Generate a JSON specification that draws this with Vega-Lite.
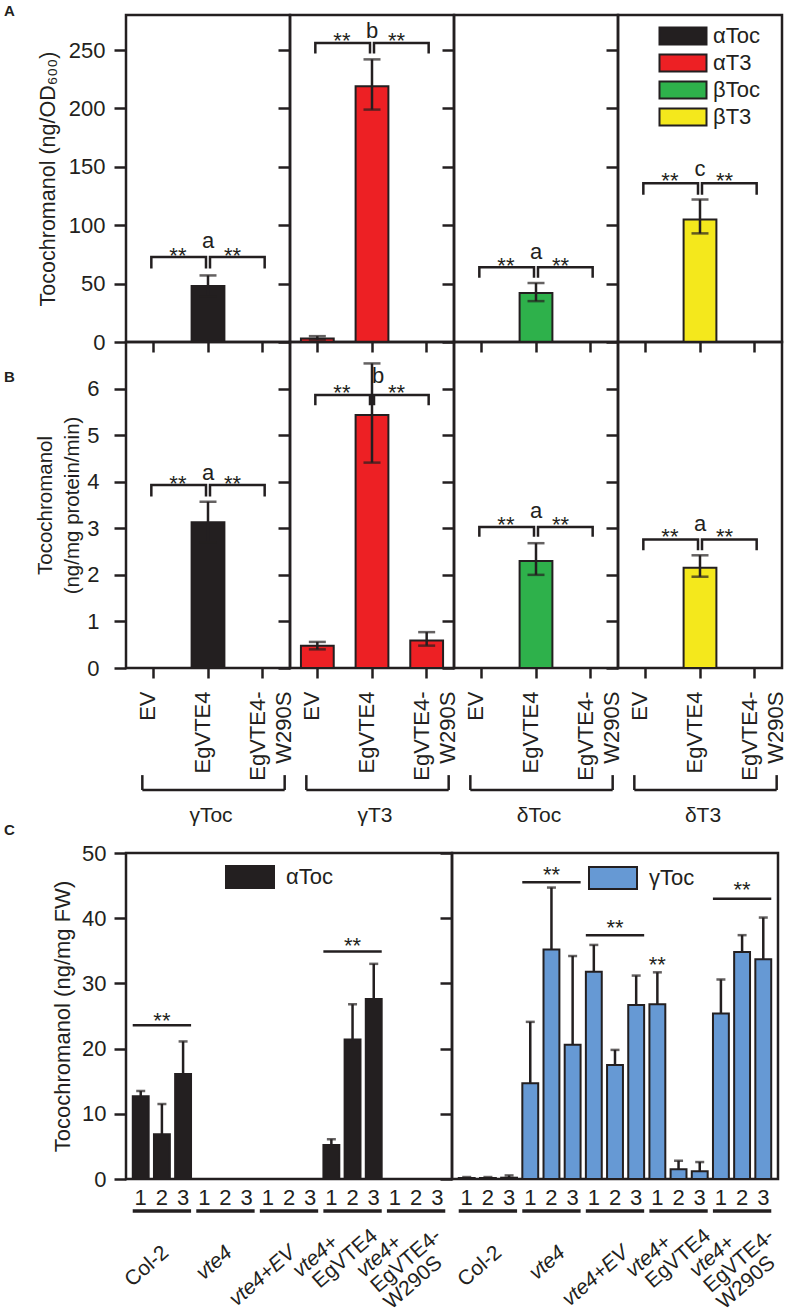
{
"$schema":"https://vega.github.io/schema/vega-lite/v6.json",
"padding":{"left":2,"top":2,"right":3,"bottom":3},
"background":"white",
"datasets":{
"ab":[
{"p":"A1","cat":"EgVTE4","val":48,"lo":39,"hi":57,"comp":"αToc"},
{"p":"A2","cat":"EV","val":3,"lo":2,"hi":5,"comp":"αT3"},
{"p":"A2","cat":"EgVTE4","val":219,"lo":199,"hi":242,"comp":"αT3"},
{"p":"A3","cat":"EgVTE4","val":42,"lo":35,"hi":50.5,"comp":"βToc"},
{"p":"A4","cat":"EgVTE4","val":105,"lo":93,"hi":122,"comp":"βT3"},
{"p":"B1","cat":"EgVTE4","val":3.13,"lo":2.7,"hi":3.57,"comp":"γToc"},
{"p":"B2","cat":"EV","val":0.48,"lo":0.4,"hi":0.56,"comp":"γT3"},
{"p":"B2","cat":"EgVTE4","val":5.43,"lo":4.41,"hi":6.54,"comp":"γT3"},
{"p":"B2","cat":"EgVTE4-W290S","val":0.59,"lo":0.48,"hi":0.77,"comp":"γT3"},
{"p":"B3","cat":"EgVTE4","val":2.3,"lo":2.0,"hi":2.68,"comp":"δToc"},
{"p":"B4","cat":"EgVTE4","val":2.15,"lo":1.96,"hi":2.42,"comp":"δT3"}
],
"brk":[
{"p":"A1","pc":"L","o":0,"cat":"EV","v":63},{"p":"A1","pc":"L","o":1,"cat":"EV","v":72.7},{"p":"A1","pc":"L","o":2,"cat":"EgVTE4","v":72.7},{"p":"A1","pc":"L","o":3,"cat":"EgVTE4","v":63},
{"p":"A1","pc":"R","o":0,"cat":"EgVTE4","v":63},{"p":"A1","pc":"R","o":1,"cat":"EgVTE4","v":72.7},{"p":"A1","pc":"R","o":2,"cat":"EgVTE4-W290S","v":72.7},{"p":"A1","pc":"R","o":3,"cat":"EgVTE4-W290S","v":63},
{"p":"A2","pc":"L","o":0,"cat":"EV","v":247},{"p":"A2","pc":"L","o":1,"cat":"EV","v":256},{"p":"A2","pc":"L","o":2,"cat":"EgVTE4","v":256},{"p":"A2","pc":"L","o":3,"cat":"EgVTE4","v":247},
{"p":"A2","pc":"R","o":0,"cat":"EgVTE4","v":247},{"p":"A2","pc":"R","o":1,"cat":"EgVTE4","v":256},{"p":"A2","pc":"R","o":2,"cat":"EgVTE4-W290S","v":256},{"p":"A2","pc":"R","o":3,"cat":"EgVTE4-W290S","v":247},
{"p":"A3","pc":"L","o":0,"cat":"EV","v":55},{"p":"A3","pc":"L","o":1,"cat":"EV","v":64},{"p":"A3","pc":"L","o":2,"cat":"EgVTE4","v":64},{"p":"A3","pc":"L","o":3,"cat":"EgVTE4","v":55},
{"p":"A3","pc":"R","o":0,"cat":"EgVTE4","v":55},{"p":"A3","pc":"R","o":1,"cat":"EgVTE4","v":64},{"p":"A3","pc":"R","o":2,"cat":"EgVTE4-W290S","v":64},{"p":"A3","pc":"R","o":3,"cat":"EgVTE4-W290S","v":55},
{"p":"A4","pc":"L","o":0,"cat":"EV","v":126},{"p":"A4","pc":"L","o":1,"cat":"EV","v":136},{"p":"A4","pc":"L","o":2,"cat":"EgVTE4","v":136},{"p":"A4","pc":"L","o":3,"cat":"EgVTE4","v":126},
{"p":"A4","pc":"R","o":0,"cat":"EgVTE4","v":126},{"p":"A4","pc":"R","o":1,"cat":"EgVTE4","v":136},{"p":"A4","pc":"R","o":2,"cat":"EgVTE4-W290S","v":136},{"p":"A4","pc":"R","o":3,"cat":"EgVTE4-W290S","v":126},
{"p":"B1","pc":"L","o":0,"cat":"EV","v":3.68},{"p":"B1","pc":"L","o":1,"cat":"EV","v":3.93},{"p":"B1","pc":"L","o":2,"cat":"EgVTE4","v":3.93},{"p":"B1","pc":"L","o":3,"cat":"EgVTE4","v":3.68},
{"p":"B1","pc":"R","o":0,"cat":"EgVTE4","v":3.68},{"p":"B1","pc":"R","o":1,"cat":"EgVTE4","v":3.93},{"p":"B1","pc":"R","o":2,"cat":"EgVTE4-W290S","v":3.93},{"p":"B1","pc":"R","o":3,"cat":"EgVTE4-W290S","v":3.68},
{"p":"B2","pc":"L","o":0,"cat":"EV","v":5.64},{"p":"B2","pc":"L","o":1,"cat":"EV","v":5.86},{"p":"B2","pc":"L","o":2,"cat":"EgVTE4","v":5.86},{"p":"B2","pc":"L","o":3,"cat":"EgVTE4","v":5.64},
{"p":"B2","pc":"R","o":0,"cat":"EgVTE4","v":5.64},{"p":"B2","pc":"R","o":1,"cat":"EgVTE4","v":5.86},{"p":"B2","pc":"R","o":2,"cat":"EgVTE4-W290S","v":5.86},{"p":"B2","pc":"R","o":3,"cat":"EgVTE4-W290S","v":5.64},
{"p":"B3","pc":"L","o":0,"cat":"EV","v":2.82},{"p":"B3","pc":"L","o":1,"cat":"EV","v":3.03},{"p":"B3","pc":"L","o":2,"cat":"EgVTE4","v":3.03},{"p":"B3","pc":"L","o":3,"cat":"EgVTE4","v":2.82},
{"p":"B3","pc":"R","o":0,"cat":"EgVTE4","v":2.82},{"p":"B3","pc":"R","o":1,"cat":"EgVTE4","v":3.03},{"p":"B3","pc":"R","o":2,"cat":"EgVTE4-W290S","v":3.03},{"p":"B3","pc":"R","o":3,"cat":"EgVTE4-W290S","v":2.82},
{"p":"B4","pc":"L","o":0,"cat":"EV","v":2.53},{"p":"B4","pc":"L","o":1,"cat":"EV","v":2.76},{"p":"B4","pc":"L","o":2,"cat":"EgVTE4","v":2.76},{"p":"B4","pc":"L","o":3,"cat":"EgVTE4","v":2.53},
{"p":"B4","pc":"R","o":0,"cat":"EgVTE4","v":2.53},{"p":"B4","pc":"R","o":1,"cat":"EgVTE4","v":2.76},{"p":"B4","pc":"R","o":2,"cat":"EgVTE4-W290S","v":2.76},{"p":"B4","pc":"R","o":3,"cat":"EgVTE4-W290S","v":2.53}
],
"st":[
{"p":"A1","k":"s","cat":"EV","v":68,"t":"**"},{"p":"A1","k":"s","cat":"EgVTE4","v":68,"t":"**"},{"p":"A1","k":"l","cat":"EgVTE4","v":80.5,"t":"a"},
{"p":"A2","k":"s","cat":"EV","v":252,"t":"**"},{"p":"A2","k":"s","cat":"EgVTE4","v":252,"t":"**"},{"p":"A2","k":"l","cat":"EgVTE4","v":260,"t":"b"},
{"p":"A3","k":"s","cat":"EV","v":59.5,"t":"**"},{"p":"A3","k":"s","cat":"EgVTE4","v":59.5,"t":"**"},{"p":"A3","k":"l","cat":"EgVTE4","v":71,"t":"a"},
{"p":"A4","k":"s","cat":"EV","v":132,"t":"**"},{"p":"A4","k":"s","cat":"EgVTE4","v":132,"t":"**"},{"p":"A4","k":"l","cat":"EgVTE4","v":142,"t":"c"},
{"p":"B1","k":"s","cat":"EV","v":3.81,"t":"**"},{"p":"B1","k":"s","cat":"EgVTE4","v":3.81,"t":"**"},{"p":"B1","k":"l","cat":"EgVTE4","v":4.03,"t":"a"},
{"p":"B2","k":"s","cat":"EV","v":5.76,"t":"**"},{"p":"B2","k":"s","cat":"EgVTE4","v":5.76,"t":"**"},{"p":"B2","k":"l","cat":"EgVTE4","v":6.12,"t":"b"},
{"p":"B3","k":"s","cat":"EV","v":2.93,"t":"**"},{"p":"B3","k":"s","cat":"EgVTE4","v":2.93,"t":"**"},{"p":"B3","k":"l","cat":"EgVTE4","v":3.22,"t":"a"},
{"p":"B4","k":"s","cat":"EV","v":2.67,"t":"**"},{"p":"B4","k":"s","cat":"EgVTE4","v":2.67,"t":"**"},{"p":"B4","k":"l","cat":"EgVTE4","v":2.95,"t":"a"}
],
"grp":[
{"p":"B1","lab":"γToc","top":-2.3,"bot":-2.62,"ly":-3.3},
{"p":"B2","lab":"γT3","top":-2.3,"bot":-2.62,"ly":-3.3},
{"p":"B3","lab":"δToc","top":-2.3,"bot":-2.62,"ly":-3.3},
{"p":"B4","lab":"δT3","top":-2.3,"bot":-2.62,"ly":-3.3}
],
"c":[
{"s":"L","key":"Col-2|1","val":12.7,"hi":13.5,"comp":"αToc"},
{"s":"L","key":"Col-2|2","val":6.85,"hi":11.5,"comp":"αToc"},
{"s":"L","key":"Col-2|3","val":16.1,"hi":21.1,"comp":"αToc"},
{"s":"L","key":"vte4+EgVTE4|1","val":5.2,"hi":6.1,"comp":"αToc"},
{"s":"L","key":"vte4+EgVTE4|2","val":21.4,"hi":26.8,"comp":"αToc"},
{"s":"L","key":"vte4+EgVTE4|3","val":27.6,"hi":33.0,"comp":"αToc"},
{"s":"R","key":"Col-2|1","val":0.15,"hi":0.3,"comp":"γToc"},
{"s":"R","key":"Col-2|2","val":0.15,"hi":0.3,"comp":"γToc"},
{"s":"R","key":"Col-2|3","val":0.2,"hi":0.55,"comp":"γToc"},
{"s":"R","key":"vte4|1","val":14.7,"hi":24.1,"comp":"γToc"},
{"s":"R","key":"vte4|2","val":35.2,"hi":44.7,"comp":"γToc"},
{"s":"R","key":"vte4|3","val":20.6,"hi":34.2,"comp":"γToc"},
{"s":"R","key":"vte4+EV|1","val":31.8,"hi":35.9,"comp":"γToc"},
{"s":"R","key":"vte4+EV|2","val":17.5,"hi":19.8,"comp":"γToc"},
{"s":"R","key":"vte4+EV|3","val":26.7,"hi":31.2,"comp":"γToc"},
{"s":"R","key":"vte4+EgVTE4|1","val":26.8,"hi":31.7,"comp":"γToc"},
{"s":"R","key":"vte4+EgVTE4|2","val":1.5,"hi":2.8,"comp":"γToc"},
{"s":"R","key":"vte4+EgVTE4|3","val":1.2,"hi":2.6,"comp":"γToc"},
{"s":"R","key":"vte4+EgVTE4-W290S|1","val":25.4,"hi":30.6,"comp":"γToc"},
{"s":"R","key":"vte4+EgVTE4-W290S|2","val":34.8,"hi":37.4,"comp":"γToc"},
{"s":"R","key":"vte4+EgVTE4-W290S|3","val":33.7,"hi":40.1,"comp":"γToc"}
],
"csig":[
{"s":"L","from":"Col-2|1","to":"Col-2|3","at":"Col-2|2","v":23.6,"sv":23.2},
{"s":"L","from":"vte4+EgVTE4|1","to":"vte4+EgVTE4|3","at":"vte4+EgVTE4|2","v":34.9,"sv":34.6},
{"s":"R","from":"vte4|1","to":"vte4|3","at":"vte4|2","v":45.5,"sv":45.5},
{"s":"R","from":"vte4+EV|1","to":"vte4+EV|3","at":"vte4+EV|2","v":37.4,"sv":37.5},
{"s":"R","at":"vte4+EgVTE4|1","v":null,"sv":31.8},
{"s":"R","from":"vte4+EgVTE4-W290S|1","to":"vte4+EgVTE4-W290S|3","at":"vte4+EgVTE4-W290S|2","v":43.0,"sv":43.2}
],
"cgrp":[
{"s":"L","first":"Col-2|1","last":"Col-2|3","u":-4.9},
{"s":"L","first":"vte4|1","last":"vte4|3","u":-4.9},
{"s":"L","first":"vte4+EV|1","last":"vte4+EV|3","u":-4.9},
{"s":"L","first":"vte4+EgVTE4|1","last":"vte4+EgVTE4|3","u":-4.9},
{"s":"L","first":"vte4+EgVTE4-W290S|1","last":"vte4+EgVTE4-W290S|3","u":-4.9},
{"s":"R","first":"Col-2|1","last":"Col-2|3","u":-4.9},
{"s":"R","first":"vte4|1","last":"vte4|3","u":-4.9},
{"s":"R","first":"vte4+EV|1","last":"vte4+EV|3","u":-4.9},
{"s":"R","first":"vte4+EgVTE4|1","last":"vte4+EgVTE4|3","u":-4.9},
{"s":"R","first":"vte4+EgVTE4-W290S|1","last":"vte4+EgVTE4-W290S|3","u":-4.9}
],
"clab":[
{"s":"L","at":"Col-2|2","ln":0,"it":false,"t":"Col-2","y":-10.9},
{"s":"L","at":"vte4|2","ln":0,"it":true,"t":"vte4","y":-10.9},
{"s":"L","at":"vte4+EV|2","ln":0,"it":true,"t":"vte4+EV","y":-10.9},
{"s":"L","at":"vte4+EgVTE4|1","ln":0,"it":true,"t":"vte4+","y":-9.3},
{"s":"L","at":"vte4+EgVTE4|1","ln":1,"it":false,"t":"EgVTE4","y":-9.3},
{"s":"L","at":"vte4+EgVTE4-W290S|1","ln":0,"it":true,"t":"vte4+","y":-9.3},
{"s":"L","at":"vte4+EgVTE4-W290S|1","ln":1,"it":false,"t":"EgVTE4-","y":-9.3},
{"s":"L","at":"vte4+EgVTE4-W290S|1","ln":2,"it":false,"t":"W290S","y":-9.3},
{"s":"R","at":"Col-2|2","ln":0,"it":false,"t":"Col-2","y":-10.9},
{"s":"R","at":"vte4|2","ln":0,"it":true,"t":"vte4","y":-10.9},
{"s":"R","at":"vte4+EV|2","ln":0,"it":true,"t":"vte4+EV","y":-10.9},
{"s":"R","at":"vte4+EgVTE4|1","ln":0,"it":true,"t":"vte4+","y":-9.3},
{"s":"R","at":"vte4+EgVTE4|1","ln":1,"it":false,"t":"EgVTE4","y":-9.3},
{"s":"R","at":"vte4+EgVTE4-W290S|1","ln":0,"it":true,"t":"vte4+","y":-9.3},
{"s":"R","at":"vte4+EgVTE4-W290S|1","ln":1,"it":false,"t":"EgVTE4-","y":-9.3},
{"s":"R","at":"vte4+EgVTE4-W290S|1","ln":2,"it":false,"t":"W290S","y":-9.3}
]
},
"vconcat":[
{"concat":[
{"width":164,"height":327,
"title":{"text":"A","anchor":"start","frame":"group","orient":"top","offset":-16,"dx":-122,"fontSize":15,"fontWeight":"bold","baseline":"alphabetic","color":"#231f20","font":"Liberation Sans"},
"layer":[
{"data":{"name":"ab"},"transform":[{"filter":"datum.p=='A1'"}],"mark":"bar","encoding":{
"x":{"field":"cat","type":"nominal","scale":{"domain":["EV","EgVTE4","EgVTE4-W290S"],"paddingInner":0.4,"paddingOuter":0.2},"axis":{"labels":false,"tickSize":10,"title":null}},
"y":{"field":"val","type":"quantitative","scale":{"domain":[0,280],"nice":false},"axis":{"values":[0,50,100,150,200,250],"title":"Tocochromanol (ng/OD₆₀₀)","labelPadding":9,"titlePadding":9,"titleFontSize":21.5}},
"color":{"field":"comp","type":"nominal","scale":{"domain":["αToc"],"range":["#231f20"]},"legend":null}}},
{"data":{"name":"ab"},"transform":[{"filter":"datum.p=='A1'"}],"mark":"rule","encoding":{"x":{"field":"cat","type":"nominal"},"y":{"field":"lo","type":"quantitative"},"y2":{"field":"hi"}}},
{"data":{"name":"ab"},"transform":[{"filter":"datum.p=='A1'"},{"fold":["lo","hi"],"as":["w","e"]}],"mark":{"type":"tick","size":17},"encoding":{"x":{"field":"cat","type":"nominal"},"y":{"field":"e","type":"quantitative"}}},
{"data":{"name":"brk"},"transform":[{"filter":"datum.p=='A1' && datum.pc=='L'"}],"mark":{"type":"line","xOffset":-2},"encoding":{"x":{"field":"cat","type":"nominal"},"y":{"field":"v","type":"quantitative"},"order":{"field":"o"}}},
{"data":{"name":"brk"},"transform":[{"filter":"datum.p=='A1' && datum.pc=='R'"}],"mark":{"type":"line","xOffset":2},"encoding":{"x":{"field":"cat","type":"nominal"},"y":{"field":"v","type":"quantitative"},"order":{"field":"o"}}},
{"data":{"name":"st"},"transform":[{"filter":"datum.p=='A1' && datum.k=='s'"}],"mark":{"type":"text","baseline":"alphabetic"},"encoding":{"x":{"field":"cat","type":"nominal","bandPosition":1.25},"y":{"field":"v","type":"quantitative"},"text":{"field":"t"}}},
{"data":{"name":"st"},"transform":[{"filter":"datum.p=='A1' && datum.k=='l'"}],"mark":{"type":"text","baseline":"alphabetic"},"encoding":{"x":{"field":"cat","type":"nominal"},"y":{"field":"v","type":"quantitative"},"text":{"field":"t"}}}
]},
{"width":164,"height":327,
"layer":[
{"data":{"name":"ab"},"transform":[{"filter":"datum.p=='A2'"}],"mark":"bar","encoding":{
"x":{"field":"cat","type":"nominal","scale":{"domain":["EV","EgVTE4","EgVTE4-W290S"],"paddingInner":0.4,"paddingOuter":0.2},"axis":{"labels":false,"tickSize":10,"title":null}},
"y":{"field":"val","type":"quantitative","scale":{"domain":[0,280],"nice":false},"axis":{"values":[0,50,100,150,200,250],"labels":false,"title":null}},
"color":{"field":"comp","type":"nominal","scale":{"domain":["αT3"],"range":["#ed2024"]},"legend":null}}},
{"data":{"name":"ab"},"transform":[{"filter":"datum.p=='A2'"}],"mark":"rule","encoding":{"x":{"field":"cat","type":"nominal"},"y":{"field":"lo","type":"quantitative"},"y2":{"field":"hi"}}},
{"data":{"name":"ab"},"transform":[{"filter":"datum.p=='A2'"},{"fold":["lo","hi"],"as":["w","e"]}],"mark":{"type":"tick","size":17},"encoding":{"x":{"field":"cat","type":"nominal"},"y":{"field":"e","type":"quantitative"}}},
{"data":{"name":"brk"},"transform":[{"filter":"datum.p=='A2' && datum.pc=='L'"}],"mark":{"type":"line","xOffset":-2},"encoding":{"x":{"field":"cat","type":"nominal"},"y":{"field":"v","type":"quantitative"},"order":{"field":"o"}}},
{"data":{"name":"brk"},"transform":[{"filter":"datum.p=='A2' && datum.pc=='R'"}],"mark":{"type":"line","xOffset":2},"encoding":{"x":{"field":"cat","type":"nominal"},"y":{"field":"v","type":"quantitative"},"order":{"field":"o"}}},
{"data":{"name":"st"},"transform":[{"filter":"datum.p=='A2' && datum.k=='s'"}],"mark":{"type":"text","baseline":"alphabetic"},"encoding":{"x":{"field":"cat","type":"nominal","bandPosition":1.25},"y":{"field":"v","type":"quantitative"},"text":{"field":"t"}}},
{"data":{"name":"st"},"transform":[{"filter":"datum.p=='A2' && datum.k=='l'"}],"mark":{"type":"text","baseline":"alphabetic"},"encoding":{"x":{"field":"cat","type":"nominal"},"y":{"field":"v","type":"quantitative"},"text":{"field":"t"}}}
]},
{"width":164,"height":327,
"layer":[
{"data":{"name":"ab"},"transform":[{"filter":"datum.p=='A3'"}],"mark":"bar","encoding":{
"x":{"field":"cat","type":"nominal","scale":{"domain":["EV","EgVTE4","EgVTE4-W290S"],"paddingInner":0.4,"paddingOuter":0.2},"axis":{"labels":false,"tickSize":10,"title":null}},
"y":{"field":"val","type":"quantitative","scale":{"domain":[0,280],"nice":false},"axis":{"values":[0,50,100,150,200,250],"labels":false,"title":null}},
"color":{"field":"comp","type":"nominal","scale":{"domain":["βToc"],"range":["#2eb14b"]},"legend":null}}},
{"data":{"name":"ab"},"transform":[{"filter":"datum.p=='A3'"}],"mark":"rule","encoding":{"x":{"field":"cat","type":"nominal"},"y":{"field":"lo","type":"quantitative"},"y2":{"field":"hi"}}},
{"data":{"name":"ab"},"transform":[{"filter":"datum.p=='A3'"},{"fold":["lo","hi"],"as":["w","e"]}],"mark":{"type":"tick","size":17},"encoding":{"x":{"field":"cat","type":"nominal"},"y":{"field":"e","type":"quantitative"}}},
{"data":{"name":"brk"},"transform":[{"filter":"datum.p=='A3' && datum.pc=='L'"}],"mark":{"type":"line","xOffset":-2},"encoding":{"x":{"field":"cat","type":"nominal"},"y":{"field":"v","type":"quantitative"},"order":{"field":"o"}}},
{"data":{"name":"brk"},"transform":[{"filter":"datum.p=='A3' && datum.pc=='R'"}],"mark":{"type":"line","xOffset":2},"encoding":{"x":{"field":"cat","type":"nominal"},"y":{"field":"v","type":"quantitative"},"order":{"field":"o"}}},
{"data":{"name":"st"},"transform":[{"filter":"datum.p=='A3' && datum.k=='s'"}],"mark":{"type":"text","baseline":"alphabetic"},"encoding":{"x":{"field":"cat","type":"nominal","bandPosition":1.25},"y":{"field":"v","type":"quantitative"},"text":{"field":"t"}}},
{"data":{"name":"st"},"transform":[{"filter":"datum.p=='A3' && datum.k=='l'"}],"mark":{"type":"text","baseline":"alphabetic"},"encoding":{"x":{"field":"cat","type":"nominal"},"y":{"field":"v","type":"quantitative"},"text":{"field":"t"}}}
]},
{"width":164,"height":327,
"layer":[
{"data":{"name":"ab"},"transform":[{"filter":"datum.p=='A4'"}],"mark":"bar","encoding":{
"x":{"field":"cat","type":"nominal","scale":{"domain":["EV","EgVTE4","EgVTE4-W290S"],"paddingInner":0.4,"paddingOuter":0.2},"axis":{"labels":false,"tickSize":10,"title":null}},
"y":{"field":"val","type":"quantitative","scale":{"domain":[0,280],"nice":false},"axis":{"values":[0,50,100,150,200,250],"labels":false,"title":null}},
"color":{"field":"comp","type":"nominal","scale":{"domain":["αToc","αT3","βToc","βT3"],"range":["#231f20","#ed2024","#2eb14b","#f4e81c"]},
"legend":{"orient":"none","legendX":54,"legendY":10,"title":null,"padding":0,"symbolType":"M-2.765,-1L2.765,-1L2.765,1L-2.765,1Z","symbolSize":289,"symbolStrokeColor":"#231f20","symbolStrokeWidth":2,"labelFontSize":22,"labelOffset":19,"rowPadding":1}}}},
{"data":{"name":"ab"},"transform":[{"filter":"datum.p=='A4'"}],"mark":"rule","encoding":{"x":{"field":"cat","type":"nominal"},"y":{"field":"lo","type":"quantitative"},"y2":{"field":"hi"}}},
{"data":{"name":"ab"},"transform":[{"filter":"datum.p=='A4'"},{"fold":["lo","hi"],"as":["w","e"]}],"mark":{"type":"tick","size":17},"encoding":{"x":{"field":"cat","type":"nominal"},"y":{"field":"e","type":"quantitative"}}},
{"data":{"name":"brk"},"transform":[{"filter":"datum.p=='A4' && datum.pc=='L'"}],"mark":{"type":"line","xOffset":-2},"encoding":{"x":{"field":"cat","type":"nominal"},"y":{"field":"v","type":"quantitative"},"order":{"field":"o"}}},
{"data":{"name":"brk"},"transform":[{"filter":"datum.p=='A4' && datum.pc=='R'"}],"mark":{"type":"line","xOffset":2},"encoding":{"x":{"field":"cat","type":"nominal"},"y":{"field":"v","type":"quantitative"},"order":{"field":"o"}}},
{"data":{"name":"st"},"transform":[{"filter":"datum.p=='A4' && datum.k=='s'"}],"mark":{"type":"text","baseline":"alphabetic"},"encoding":{"x":{"field":"cat","type":"nominal","bandPosition":1.25},"y":{"field":"v","type":"quantitative"},"text":{"field":"t"}}},
{"data":{"name":"st"},"transform":[{"filter":"datum.p=='A4' && datum.k=='l'"}],"mark":{"type":"text","baseline":"alphabetic"},"encoding":{"x":{"field":"cat","type":"nominal"},"y":{"field":"v","type":"quantitative"},"text":{"field":"t"}}}
]},
{"width":164,"height":326,
"title":{"text":"B","anchor":"start","frame":"group","orient":"top","offset":-55,"dx":-122,"fontSize":15,"fontWeight":"bold","baseline":"alphabetic","color":"#231f20","font":"Liberation Sans"},
"layer":[
{"data":{"name":"ab"},"transform":[{"filter":"datum.p=='B1'"}],"mark":"bar","encoding":{
"x":{"field":"cat","type":"nominal","scale":{"domain":["EV","EgVTE4","EgVTE4-W290S"],"paddingInner":0.4,"paddingOuter":0.2},"axis":{"labelAngle":-90,"labelPadding":13,"labelOffset":-5,"tickSize":10,"title":null,"labelLineHeight":26,"labelExpr":"datum.label == 'EgVTE4-W290S' ? ['EgVTE4-', 'W290S'] : datum.label"}},
"y":{"field":"val","type":"quantitative","scale":{"domain":[0,7],"nice":false},"axis":{"values":[0,1,2,3,4,5,6],"title":["Tocochromanol","(ng/mg protein/min)"],"titleLineHeight":27,"labelPadding":15,"titlePadding":4,"titleFontSize":20.5}},
"color":{"field":"comp","type":"nominal","scale":{"domain":["γToc"],"range":["#231f20"]},"legend":null}}},
{"data":{"name":"ab"},"transform":[{"filter":"datum.p=='B1'"}],"mark":"rule","encoding":{"x":{"field":"cat","type":"nominal"},"y":{"field":"lo","type":"quantitative"},"y2":{"field":"hi"}}},
{"data":{"name":"ab"},"transform":[{"filter":"datum.p=='B1'"},{"fold":["lo","hi"],"as":["w","e"]}],"mark":{"type":"tick","size":17},"encoding":{"x":{"field":"cat","type":"nominal"},"y":{"field":"e","type":"quantitative"}}},
{"data":{"name":"brk"},"transform":[{"filter":"datum.p=='B1' && datum.pc=='L'"}],"mark":{"type":"line","xOffset":-2},"encoding":{"x":{"field":"cat","type":"nominal"},"y":{"field":"v","type":"quantitative"},"order":{"field":"o"}}},
{"data":{"name":"brk"},"transform":[{"filter":"datum.p=='B1' && datum.pc=='R'"}],"mark":{"type":"line","xOffset":2},"encoding":{"x":{"field":"cat","type":"nominal"},"y":{"field":"v","type":"quantitative"},"order":{"field":"o"}}},
{"data":{"name":"st"},"transform":[{"filter":"datum.p=='B1' && datum.k=='s'"}],"mark":{"type":"text","baseline":"alphabetic"},"encoding":{"x":{"field":"cat","type":"nominal","bandPosition":1.25},"y":{"field":"v","type":"quantitative"},"text":{"field":"t"}}},
{"data":{"name":"st"},"transform":[{"filter":"datum.p=='B1' && datum.k=='l'"}],"mark":{"type":"text","baseline":"alphabetic"},"encoding":{"x":{"field":"cat","type":"nominal"},"y":{"field":"v","type":"quantitative"},"text":{"field":"t"}}},
{"data":{"name":"grp"},"transform":[{"filter":"datum.p=='B1'"}],"mark":{"type":"rule","xOffset":-11,"x2Offset":22},"encoding":{"x":{"datum":"EV","type":"nominal"},"x2":{"datum":"EgVTE4-W290S"},"y":{"field":"bot","type":"quantitative"}}},
{"data":{"name":"grp"},"transform":[{"filter":"datum.p=='B1'"}],"mark":{"type":"rule","xOffset":-11},"encoding":{"x":{"datum":"EV","type":"nominal"},"y":{"field":"top","type":"quantitative"},"y2":{"field":"bot"}}},
{"data":{"name":"grp"},"transform":[{"filter":"datum.p=='B1'"}],"mark":{"type":"rule","xOffset":22},"encoding":{"x":{"datum":"EgVTE4-W290S","type":"nominal"},"y":{"field":"top","type":"quantitative"},"y2":{"field":"bot"}}},
{"data":{"name":"grp"},"transform":[{"filter":"datum.p=='B1'"}],"mark":{"type":"text","dx":3,"fontSize":21,"baseline":"alphabetic"},"encoding":{"x":{"datum":"EgVTE4","type":"nominal"},"y":{"field":"ly","type":"quantitative"},"text":{"field":"lab"}}}
]},
{"width":164,"height":326,
"title":{"text":"C","anchor":"start","frame":"group","orient":"top","offset":-508,"dx":-286,"fontSize":15,"fontWeight":"bold","baseline":"alphabetic","color":"#231f20","font":"Liberation Sans"},
"layer":[
{"data":{"name":"ab"},"transform":[{"filter":"datum.p=='B2'"}],"mark":"bar","encoding":{
"x":{"field":"cat","type":"nominal","scale":{"domain":["EV","EgVTE4","EgVTE4-W290S"],"paddingInner":0.4,"paddingOuter":0.2},"axis":{"labelAngle":-90,"labelPadding":13,"labelOffset":-5,"tickSize":10,"title":null,"labelLineHeight":26,"labelExpr":"datum.label == 'EgVTE4-W290S' ? ['EgVTE4-', 'W290S'] : datum.label"}},
"y":{"field":"val","type":"quantitative","scale":{"domain":[0,7],"nice":false},"axis":{"values":[0,1,2,3,4,5,6],"labels":false,"title":null}},
"color":{"field":"comp","type":"nominal","scale":{"domain":["γT3"],"range":["#ed2024"]},"legend":null}}},
{"data":{"name":"ab"},"transform":[{"filter":"datum.p=='B2'"}],"mark":"rule","encoding":{"x":{"field":"cat","type":"nominal"},"y":{"field":"lo","type":"quantitative"},"y2":{"field":"hi"}}},
{"data":{"name":"ab"},"transform":[{"filter":"datum.p=='B2'"},{"fold":["lo","hi"],"as":["w","e"]}],"mark":{"type":"tick","size":17},"encoding":{"x":{"field":"cat","type":"nominal"},"y":{"field":"e","type":"quantitative"}}},
{"data":{"name":"brk"},"transform":[{"filter":"datum.p=='B2' && datum.pc=='L'"}],"mark":{"type":"line","xOffset":-2},"encoding":{"x":{"field":"cat","type":"nominal"},"y":{"field":"v","type":"quantitative"},"order":{"field":"o"}}},
{"data":{"name":"brk"},"transform":[{"filter":"datum.p=='B2' && datum.pc=='R'"}],"mark":{"type":"line","xOffset":2},"encoding":{"x":{"field":"cat","type":"nominal"},"y":{"field":"v","type":"quantitative"},"order":{"field":"o"}}},
{"data":{"name":"st"},"transform":[{"filter":"datum.p=='B2' && datum.k=='s'"}],"mark":{"type":"text","baseline":"alphabetic"},"encoding":{"x":{"field":"cat","type":"nominal","bandPosition":1.25},"y":{"field":"v","type":"quantitative"},"text":{"field":"t"}}},
{"data":{"name":"st"},"transform":[{"filter":"datum.p=='B2' && datum.k=='l'"}],"mark":{"type":"text","baseline":"alphabetic","dx":6},"encoding":{"x":{"field":"cat","type":"nominal"},"y":{"field":"v","type":"quantitative"},"text":{"field":"t"}}},
{"data":{"name":"grp"},"transform":[{"filter":"datum.p=='B2'"}],"mark":{"type":"rule","xOffset":-11,"x2Offset":22},"encoding":{"x":{"datum":"EV","type":"nominal"},"x2":{"datum":"EgVTE4-W290S"},"y":{"field":"bot","type":"quantitative"}}},
{"data":{"name":"grp"},"transform":[{"filter":"datum.p=='B2'"}],"mark":{"type":"rule","xOffset":-11},"encoding":{"x":{"datum":"EV","type":"nominal"},"y":{"field":"top","type":"quantitative"},"y2":{"field":"bot"}}},
{"data":{"name":"grp"},"transform":[{"filter":"datum.p=='B2'"}],"mark":{"type":"rule","xOffset":22},"encoding":{"x":{"datum":"EgVTE4-W290S","type":"nominal"},"y":{"field":"top","type":"quantitative"},"y2":{"field":"bot"}}},
{"data":{"name":"grp"},"transform":[{"filter":"datum.p=='B2'"}],"mark":{"type":"text","dx":3,"fontSize":21,"baseline":"alphabetic"},"encoding":{"x":{"datum":"EgVTE4","type":"nominal"},"y":{"field":"ly","type":"quantitative"},"text":{"field":"lab"}}}
]},
{"width":164,"height":326,
"layer":[
{"data":{"name":"ab"},"transform":[{"filter":"datum.p=='B3'"}],"mark":"bar","encoding":{
"x":{"field":"cat","type":"nominal","scale":{"domain":["EV","EgVTE4","EgVTE4-W290S"],"paddingInner":0.4,"paddingOuter":0.2},"axis":{"labelAngle":-90,"labelPadding":13,"labelOffset":-5,"tickSize":10,"title":null,"labelLineHeight":26,"labelExpr":"datum.label == 'EgVTE4-W290S' ? ['EgVTE4-', 'W290S'] : datum.label"}},
"y":{"field":"val","type":"quantitative","scale":{"domain":[0,7],"nice":false},"axis":{"values":[0,1,2,3,4,5,6],"labels":false,"title":null}},
"color":{"field":"comp","type":"nominal","scale":{"domain":["δToc"],"range":["#2eb14b"]},"legend":null}}},
{"data":{"name":"ab"},"transform":[{"filter":"datum.p=='B3'"}],"mark":"rule","encoding":{"x":{"field":"cat","type":"nominal"},"y":{"field":"lo","type":"quantitative"},"y2":{"field":"hi"}}},
{"data":{"name":"ab"},"transform":[{"filter":"datum.p=='B3'"},{"fold":["lo","hi"],"as":["w","e"]}],"mark":{"type":"tick","size":17},"encoding":{"x":{"field":"cat","type":"nominal"},"y":{"field":"e","type":"quantitative"}}},
{"data":{"name":"brk"},"transform":[{"filter":"datum.p=='B3' && datum.pc=='L'"}],"mark":{"type":"line","xOffset":-2},"encoding":{"x":{"field":"cat","type":"nominal"},"y":{"field":"v","type":"quantitative"},"order":{"field":"o"}}},
{"data":{"name":"brk"},"transform":[{"filter":"datum.p=='B3' && datum.pc=='R'"}],"mark":{"type":"line","xOffset":2},"encoding":{"x":{"field":"cat","type":"nominal"},"y":{"field":"v","type":"quantitative"},"order":{"field":"o"}}},
{"data":{"name":"st"},"transform":[{"filter":"datum.p=='B3' && datum.k=='s'"}],"mark":{"type":"text","baseline":"alphabetic"},"encoding":{"x":{"field":"cat","type":"nominal","bandPosition":1.25},"y":{"field":"v","type":"quantitative"},"text":{"field":"t"}}},
{"data":{"name":"st"},"transform":[{"filter":"datum.p=='B3' && datum.k=='l'"}],"mark":{"type":"text","baseline":"alphabetic"},"encoding":{"x":{"field":"cat","type":"nominal"},"y":{"field":"v","type":"quantitative"},"text":{"field":"t"}}},
{"data":{"name":"grp"},"transform":[{"filter":"datum.p=='B3'"}],"mark":{"type":"rule","xOffset":-11,"x2Offset":22},"encoding":{"x":{"datum":"EV","type":"nominal"},"x2":{"datum":"EgVTE4-W290S"},"y":{"field":"bot","type":"quantitative"}}},
{"data":{"name":"grp"},"transform":[{"filter":"datum.p=='B3'"}],"mark":{"type":"rule","xOffset":-11},"encoding":{"x":{"datum":"EV","type":"nominal"},"y":{"field":"top","type":"quantitative"},"y2":{"field":"bot"}}},
{"data":{"name":"grp"},"transform":[{"filter":"datum.p=='B3'"}],"mark":{"type":"rule","xOffset":22},"encoding":{"x":{"datum":"EgVTE4-W290S","type":"nominal"},"y":{"field":"top","type":"quantitative"},"y2":{"field":"bot"}}},
{"data":{"name":"grp"},"transform":[{"filter":"datum.p=='B3'"}],"mark":{"type":"text","dx":3,"fontSize":21,"baseline":"alphabetic"},"encoding":{"x":{"datum":"EgVTE4","type":"nominal"},"y":{"field":"ly","type":"quantitative"},"text":{"field":"lab"}}}
]},
{"width":164,"height":326,
"layer":[
{"data":{"name":"ab"},"transform":[{"filter":"datum.p=='B4'"}],"mark":"bar","encoding":{
"x":{"field":"cat","type":"nominal","scale":{"domain":["EV","EgVTE4","EgVTE4-W290S"],"paddingInner":0.4,"paddingOuter":0.2},"axis":{"labelAngle":-90,"labelPadding":13,"labelOffset":-5,"tickSize":10,"title":null,"labelLineHeight":26,"labelExpr":"datum.label == 'EgVTE4-W290S' ? ['EgVTE4-', 'W290S'] : datum.label"}},
"y":{"field":"val","type":"quantitative","scale":{"domain":[0,7],"nice":false},"axis":{"values":[0,1,2,3,4,5,6],"labels":false,"title":null}},
"color":{"field":"comp","type":"nominal","scale":{"domain":["δT3"],"range":["#f4e81c"]},"legend":null}}},
{"data":{"name":"ab"},"transform":[{"filter":"datum.p=='B4'"}],"mark":"rule","encoding":{"x":{"field":"cat","type":"nominal"},"y":{"field":"lo","type":"quantitative"},"y2":{"field":"hi"}}},
{"data":{"name":"ab"},"transform":[{"filter":"datum.p=='B4'"},{"fold":["lo","hi"],"as":["w","e"]}],"mark":{"type":"tick","size":17},"encoding":{"x":{"field":"cat","type":"nominal"},"y":{"field":"e","type":"quantitative"}}},
{"data":{"name":"brk"},"transform":[{"filter":"datum.p=='B4' && datum.pc=='L'"}],"mark":{"type":"line","xOffset":-2},"encoding":{"x":{"field":"cat","type":"nominal"},"y":{"field":"v","type":"quantitative"},"order":{"field":"o"}}},
{"data":{"name":"brk"},"transform":[{"filter":"datum.p=='B4' && datum.pc=='R'"}],"mark":{"type":"line","xOffset":2},"encoding":{"x":{"field":"cat","type":"nominal"},"y":{"field":"v","type":"quantitative"},"order":{"field":"o"}}},
{"data":{"name":"st"},"transform":[{"filter":"datum.p=='B4' && datum.k=='s'"}],"mark":{"type":"text","baseline":"alphabetic"},"encoding":{"x":{"field":"cat","type":"nominal","bandPosition":1.25},"y":{"field":"v","type":"quantitative"},"text":{"field":"t"}}},
{"data":{"name":"st"},"transform":[{"filter":"datum.p=='B4' && datum.k=='l'"}],"mark":{"type":"text","baseline":"alphabetic"},"encoding":{"x":{"field":"cat","type":"nominal"},"y":{"field":"v","type":"quantitative"},"text":{"field":"t"}}},
{"data":{"name":"grp"},"transform":[{"filter":"datum.p=='B4'"}],"mark":{"type":"rule","xOffset":-11,"x2Offset":22},"encoding":{"x":{"datum":"EV","type":"nominal"},"x2":{"datum":"EgVTE4-W290S"},"y":{"field":"bot","type":"quantitative"}}},
{"data":{"name":"grp"},"transform":[{"filter":"datum.p=='B4'"}],"mark":{"type":"rule","xOffset":-11},"encoding":{"x":{"datum":"EV","type":"nominal"},"y":{"field":"top","type":"quantitative"},"y2":{"field":"bot"}}},
{"data":{"name":"grp"},"transform":[{"filter":"datum.p=='B4'"}],"mark":{"type":"rule","xOffset":22},"encoding":{"x":{"datum":"EgVTE4-W290S","type":"nominal"},"y":{"field":"top","type":"quantitative"},"y2":{"field":"bot"}}},
{"data":{"name":"grp"},"transform":[{"filter":"datum.p=='B4'"}],"mark":{"type":"text","dx":3,"fontSize":21,"baseline":"alphabetic"},"encoding":{"x":{"datum":"EgVTE4","type":"nominal"},"y":{"field":"ly","type":"quantitative"},"text":{"field":"lab"}}}
]}
],"columns":4,"spacing":0,"bounds":"flush","resolve":{"scale":{"color":"independent"},"legend":{"color":"independent"}}},
{"hconcat":[
{"width":326,"height":326,
"layer":[
{"data":{"name":"c"},"transform":[{"filter":"datum.s=='L'"}],"mark":"bar","encoding":{
"x":{"field":"key","type":"nominal","scale":{"domain":["Col-2|1","Col-2|2","Col-2|3","vte4|1","vte4|2","vte4|3","vte4+EV|1","vte4+EV|2","vte4+EV|3","vte4+EgVTE4|1","vte4+EgVTE4|2","vte4+EgVTE4|3","vte4+EgVTE4-W290S|1","vte4+EgVTE4-W290S|2","vte4+EgVTE4-W290S|3"],"paddingInner":0.25,"paddingOuter":0.32},"axis":{"title":null,"ticks":false,"labelPadding":8,"labelAngle":0,"labelExpr":"split(datum.label,'|')[1]"}},
"y":{"field":"val","type":"quantitative","scale":{"domain":[0,50],"nice":false},"axis":{"values":[0,10,20,30,40,50],"title":"Tocochromanol (ng/mg FW)","titleFontSize":22,"labelPadding":8,"titlePadding":7}},
"color":{"field":"comp","type":"nominal","scale":{"domain":["αToc"],"range":["#231f20"]},
"legend":{"orient":"none","legendX":112,"legendY":12,"title":null,"padding":0,"symbolType":"M-2.182,-1L2.182,-1L2.182,1L-2.182,1Z","symbolSize":484,"symbolStrokeColor":"#231f20","symbolStrokeWidth":2,"labelFontSize":22,"labelOffset":24}}}},
{"data":{"name":"c"},"transform":[{"filter":"datum.s=='L'"}],"mark":"rule","encoding":{"x":{"field":"key","type":"nominal"},"y":{"field":"val","type":"quantitative"},"y2":{"field":"hi"}}},
{"data":{"name":"c"},"transform":[{"filter":"datum.s=='L'"}],"mark":{"type":"tick","size":9},"encoding":{"x":{"field":"key","type":"nominal"},"y":{"field":"hi","type":"quantitative"}}},
{"data":{"name":"csig"},"transform":[{"filter":"datum.s=='L' && datum.v != null"}],"mark":{"type":"rule","xOffset":-8,"x2Offset":8},"encoding":{"x":{"field":"from","type":"nominal"},"x2":{"field":"to"},"y":{"field":"v","type":"quantitative"}}},
{"data":{"name":"csig"},"transform":[{"filter":"datum.s=='L'"}],"mark":{"type":"text","baseline":"alphabetic"},"encoding":{"x":{"field":"at","type":"nominal"},"y":{"field":"sv","type":"quantitative"},"text":{"value":"**"}}},
{"data":{"name":"cgrp"},"transform":[{"filter":"datum.s=='L'"}],"mark":{"type":"rule","strokeWidth":3.5,"xOffset":-8,"x2Offset":8},"encoding":{"x":{"field":"first","type":"nominal"},"x2":{"field":"last"},"y":{"field":"u","type":"quantitative"}}},
{"data":{"name":"clab"},"transform":[{"filter":"datum.s=='L' && datum.ln==0 && datum.it"}],"mark":{"type":"text","fontSize":21,"fontStyle":"italic","angle":-41,"align":"right","baseline":"middle","xOffset":4},"encoding":{"x":{"field":"at","type":"nominal"},"y":{"field":"y","type":"quantitative"},"text":{"field":"t"}}},
{"data":{"name":"clab"},"transform":[{"filter":"datum.s=='L' && datum.ln==0 && !datum.it"}],"mark":{"type":"text","fontSize":21,"angle":-41,"align":"right","baseline":"middle","xOffset":4},"encoding":{"x":{"field":"at","type":"nominal"},"y":{"field":"y","type":"quantitative"},"text":{"field":"t"}}},
{"data":{"name":"clab"},"transform":[{"filter":"datum.s=='L' && datum.ln==1"}],"mark":{"type":"text","fontSize":21,"angle":-41,"align":"right","baseline":"middle","xOffset":4,"dx":34,"dy":21},"encoding":{"x":{"field":"at","type":"nominal"},"y":{"field":"y","type":"quantitative"},"text":{"field":"t"}}},
{"data":{"name":"clab"},"transform":[{"filter":"datum.s=='L' && datum.ln==2"}],"mark":{"type":"text","fontSize":21,"angle":-41,"align":"right","baseline":"middle","xOffset":4,"dx":17,"dy":42},"encoding":{"x":{"field":"at","type":"nominal"},"y":{"field":"y","type":"quantitative"},"text":{"field":"t"}}}
]},
{"width":326,"height":326,
"layer":[
{"data":{"name":"c"},"transform":[{"filter":"datum.s=='R'"}],"mark":"bar","encoding":{
"x":{"field":"key","type":"nominal","scale":{"domain":["Col-2|1","Col-2|2","Col-2|3","vte4|1","vte4|2","vte4|3","vte4+EV|1","vte4+EV|2","vte4+EV|3","vte4+EgVTE4|1","vte4+EgVTE4|2","vte4+EgVTE4|3","vte4+EgVTE4-W290S|1","vte4+EgVTE4-W290S|2","vte4+EgVTE4-W290S|3"],"paddingInner":0.25,"paddingOuter":0.32},"axis":{"title":null,"ticks":false,"labelPadding":8,"labelAngle":0,"labelExpr":"split(datum.label,'|')[1]"}},
"y":{"field":"val","type":"quantitative","scale":{"domain":[0,50],"nice":false},"axis":{"values":[0,10,20,30,40,50],"labels":false,"title":null}},
"color":{"field":"comp","type":"nominal","scale":{"domain":["γToc"],"range":["#6699d4"]},
"legend":{"orient":"none","legendX":149,"legendY":13,"title":null,"padding":0,"symbolType":"M-2.182,-1L2.182,-1L2.182,1L-2.182,1Z","symbolSize":484,"symbolStrokeColor":"#231f20","symbolStrokeWidth":2,"labelFontSize":22,"labelOffset":24}}}},
{"data":{"name":"c"},"transform":[{"filter":"datum.s=='R'"}],"mark":"rule","encoding":{"x":{"field":"key","type":"nominal"},"y":{"field":"val","type":"quantitative"},"y2":{"field":"hi"}}},
{"data":{"name":"c"},"transform":[{"filter":"datum.s=='R'"}],"mark":{"type":"tick","size":9},"encoding":{"x":{"field":"key","type":"nominal"},"y":{"field":"hi","type":"quantitative"}}},
{"data":{"name":"csig"},"transform":[{"filter":"datum.s=='R' && datum.v != null"}],"mark":{"type":"rule","xOffset":-8,"x2Offset":8},"encoding":{"x":{"field":"from","type":"nominal"},"x2":{"field":"to"},"y":{"field":"v","type":"quantitative"}}},
{"data":{"name":"csig"},"transform":[{"filter":"datum.s=='R'"}],"mark":{"type":"text","baseline":"alphabetic"},"encoding":{"x":{"field":"at","type":"nominal"},"y":{"field":"sv","type":"quantitative"},"text":{"value":"**"}}},
{"data":{"name":"cgrp"},"transform":[{"filter":"datum.s=='R'"}],"mark":{"type":"rule","strokeWidth":3.5,"xOffset":-8,"x2Offset":8},"encoding":{"x":{"field":"first","type":"nominal"},"x2":{"field":"last"},"y":{"field":"u","type":"quantitative"}}},
{"data":{"name":"clab"},"transform":[{"filter":"datum.s=='R' && datum.ln==0 && datum.it"}],"mark":{"type":"text","fontSize":21,"fontStyle":"italic","angle":-41,"align":"right","baseline":"middle","xOffset":11},"encoding":{"x":{"field":"at","type":"nominal"},"y":{"field":"y","type":"quantitative"},"text":{"field":"t"}}},
{"data":{"name":"clab"},"transform":[{"filter":"datum.s=='R' && datum.ln==0 && !datum.it"}],"mark":{"type":"text","fontSize":21,"angle":-41,"align":"right","baseline":"middle","xOffset":11},"encoding":{"x":{"field":"at","type":"nominal"},"y":{"field":"y","type":"quantitative"},"text":{"field":"t"}}},
{"data":{"name":"clab"},"transform":[{"filter":"datum.s=='R' && datum.ln==1"}],"mark":{"type":"text","fontSize":21,"angle":-41,"align":"right","baseline":"middle","xOffset":11,"dx":34,"dy":21},"encoding":{"x":{"field":"at","type":"nominal"},"y":{"field":"y","type":"quantitative"},"text":{"field":"t"}}},
{"data":{"name":"clab"},"transform":[{"filter":"datum.s=='R' && datum.ln==2"}],"mark":{"type":"text","fontSize":21,"angle":-41,"align":"right","baseline":"middle","xOffset":11,"dx":17,"dy":42},"encoding":{"x":{"field":"at","type":"nominal"},"y":{"field":"y","type":"quantitative"},"text":{"field":"t"}}}
]}
],"spacing":0,"bounds":"flush","resolve":{"scale":{"color":"independent"},"legend":{"color":"independent"}}}
],
"spacing":0,
"bounds":"full",
"resolve":{"scale":{"color":"independent"},"legend":{"color":"independent"}},
"config":{
"font":"Liberation Sans",
"view":{"stroke":"#231f20","strokeWidth":2.5},
"axis":{"domain":false,"grid":false,"tickColor":"#231f20","tickWidth":2.5,"tickSize":12,"labelColor":"#231f20","labelFontSize":22,"labelFont":"Liberation Sans","titleFont":"Liberation Sans","titleColor":"#231f20","titleFontWeight":"normal","titleFontSize":20},
"bar":{"stroke":"#231f20","strokeWidth":2},
"rule":{"color":"#231f20","strokeWidth":2.5},
"tick":{"color":"#231f20","thickness":2.5},
"line":{"color":"#231f20","strokeWidth":2.5},
"text":{"color":"#231f20","font":"Liberation Sans","fontSize":22},
"legend":{"labelFont":"Liberation Sans","labelColor":"#231f20"}
}
}
